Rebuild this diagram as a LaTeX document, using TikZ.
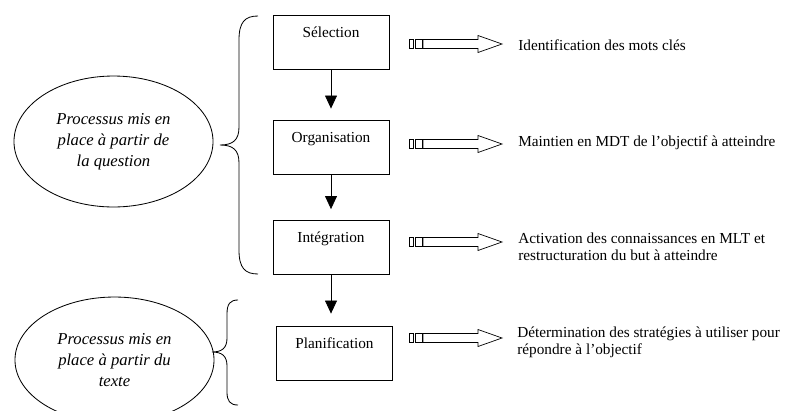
\documentclass[tikz,border=0pt]{standalone}
\usepackage{fontspec}
\setmainfont{Liberation Serif}
\usetikzlibrary{arrows.meta,shapes.geometric}
\tikzset{>={Triangle[width=8.6pt,length=9.4pt]}}
\tikzset{
  etape/.style={draw, line width=0.6pt, minimum width=83.5pt, inner ysep=4.5pt,
    text height=11.7pt, text depth=18.2pt, font=\fontsize{11}{12.5}\selectfont},
  processus/.style={draw, ellipse, line width=0.6pt, align=center, inner sep=0pt,
    minimum width=143.3pt, font=\fontsize{12}{15}\selectfont\itshape},
  effet/.style={anchor=west, align=left, inner sep=0pt, font=\fontsize{11}{12.5}\selectfont},
  accolade/.style={line width=0.6pt},
  stripearrow/.pic={
    \draw[line width=0.5pt] (0,-4.5) rectangle (4,4.5);
    \draw[line width=0.5pt] (6,-4.5) rectangle (13,4.5);
    \draw[line width=0.5pt] (14,-4.5) -- (69,-4.5) -- (69,-8.5) -- (93,0) -- (69,8.5) -- (69,4.5) -- (14,4.5) -- cycle;
  }
}

\begin{document}
\begin{tikzpicture}[x=0.72pt,y=-0.72pt]
        \useasboundingbox (0,0) rectangle (785,410);

        % les etapes
        \node[etape] at (331, 42)    (sel)   {Sélection};
        \node[etape] at (331, 147)   (org)   {Organisation};
        \node[etape] at (331, 247.5) (integ) {Intégration};
        \node[etape] at (334.5, 353) (plan)  {Planification};

        \draw[->, line width=0.6pt, shorten >=7.9pt] (sel) -- (org);
        \draw[->, line width=0.6pt, shorten >=7.9pt] (org) -- (integ);
        \draw[->, line width=0.6pt, shorten >=8.6pt] (integ) -- (integ |- plan.north);

        % les processus
        \node[processus, minimum height=94.3pt] at (113.5, 141.5) (quest)
            {Processus mis en\\ place à partir de\\ la question};
        \node[processus, minimum height=90.7pt] at (114.5, 360) (texte)
            {Processus mis en\\ place à partir du\\ texte};

        \draw[accolade] (258,16) .. controls (245,16) and (239,22) .. (239,40) -- (239,127)
            .. controls (239,140) and (233,145) .. (220,145)
            .. controls (233,145) and (239,150) .. (239,163) -- (239,250)
            .. controls (239,268) and (245,274) .. (258,274);
        \draw[accolade] (238,300) .. controls (230,300) and (227,304) .. (227,314) -- (227,338)
            .. controls (227,348) and (222,352) .. (212,352)
            .. controls (222,352) and (227,356) .. (227,366) -- (227,392)
            .. controls (227,401) and (230,405) .. (238,405);

        % les effets
        \pic at (409, 44)  {stripearrow};
        \pic at (409, 144) {stripearrow};
        \pic at (409, 242) {stripearrow};
        \pic at (409, 338) {stripearrow};

        \node[effet] at (518, 45)    (motscles) {Identification des mots clés};
        \node[effet] at (518, 143)   (mdt)      {Maintien en MDT de l’objectif à atteindre};
        \node[effet] at (518, 246.5) (mlt)      {Activation des connaissances en MLT et\\ restructuration du but à atteindre};
        \node[effet] at (517, 342)   (strat)    {Détermination des stratégies à utiliser pour\\ répondre à l’objectif};

\end{tikzpicture}
\end{document}
